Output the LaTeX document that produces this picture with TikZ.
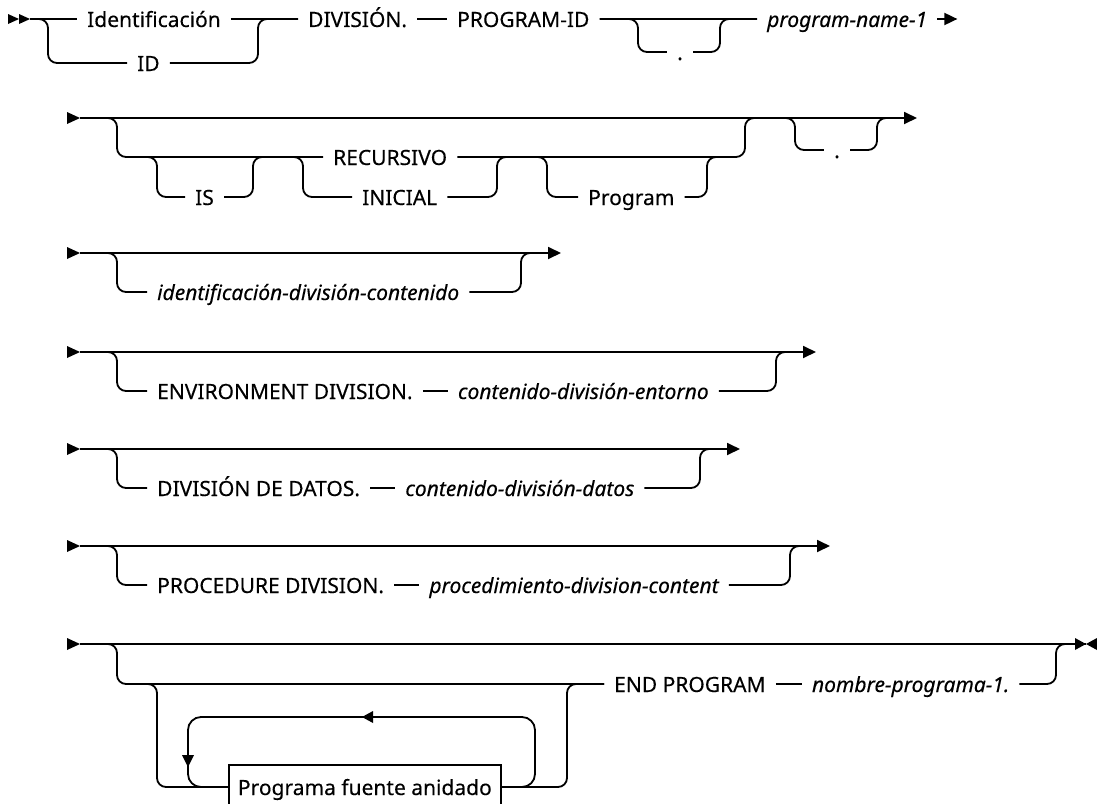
\documentclass[tikz,border=0pt]{standalone}
\usepackage{fontspec}
\setmainfont{Noto Sans}[FakeBold=0.3]
\usetikzlibrary{arrows.meta,calc}
\begin{document}
\begin{tikzpicture}[x=1pt,y=-1pt,
  rail/.style={line width=1.8pt, rounded corners=9pt},
  lbl/.style={anchor=west, inner xsep=10pt, inner ysep=0pt, text height=16pt, text depth=0pt,
    font=\fontsize{21}{25}\selectfont},
  var/.style={lbl, font=\fontsize{21}{25}\selectfont\itshape},
  dotl/.style={lbl, anchor=center},
  box/.style={draw, line width=1.8pt, anchor=west, inner xsep=9pt, inner ysep=0pt,
    minimum height=44pt, minimum width=267pt, text height=16pt, text depth=0pt,
    font=\fontsize{21}{25}\selectfont},
  endarrow/.style={-{Triangle[length=13pt,width=12pt]}},
  startmark/.pic={\fill (-13,-6) -- (0,0) -- (-13,6) -- cycle;},
  leftmark/.pic={\fill (11,-6) -- (0,0) -- (11,6) -- cycle;},
  downmark/.pic={\fill (-6,-12) -- (0,0) -- (6,-12) -- cycle;},
]
\fill[white] (0,0) rectangle (1097,803);
\useasboundingbox (0,0) rectangle (1097,803);

% ---- IDENTIFICATION DIVISION header
\coordinate (s1) at (30,19);
\fill (8,14) -- (19,19) -- (8,24) -- cycle;
\fill (19,14) -- (30,19) -- (19,24) -- cycle;
\node[lbl] (ident) at (77,19) {Identificación};
\node[lbl] (id) at (127,63) {ID};
\node[lbl] (div) at (298,19) {DIVISIÓN.};
\node[lbl] (pid) at (447,19) {PROGRAM-ID};
\node[dotl] (dot1) at (680,52) {.};
\node[var] (pn1) at (757,19) {program-name-1};
\coordinate (e1) at ($(pn1.east)+(20,0)$);
\draw[rail] (s1) -- (ident.west);
\draw[rail] (s1) -- (48,19) -- (48,63) -- (id.west);
\draw[rail] (ident.east) -- (div.west);
\draw[rail] (id.east) -- (258,63) -- (258,19) -- (div.west);
\draw[rail] (div.east) -- (pid.west);
\draw[rail] (pid.east) -- (pn1.west);
\draw[rail] (pid.east) -- (638,19) -- (638,52) -- (dot1.west);
\draw[rail] (dot1.east) -- (720,52) -- (720,19) -- (pn1.west);
\draw[rail,endarrow] (pn1.east) -- (e1);

% ---- program attributes
\coordinate (s2) at (80,118);
\coordinate (e2) at (917,118);
\pic at (s2) {startmark};
\node[lbl] (is) at (185,197) {IS};
\node[lbl] (rec) at (323,157) {RECURSIVO};
\node[lbl] (ini) at (352,197) {INICIAL};
\node[lbl] (prg) at (578,197) {Program};
\node[dotl] (dot2) at (837,150) {.};
\draw[rail,endarrow] (s2) -- (e2);
\draw[rail] (s2) -- (117,118) -- (117,157) -- (rec.west);
\draw[rail] (135,157) -- (157,157) -- (157,197) -- (is.west);
\draw[rail] (is.east) -- (253,197) -- (253,157) -- (275,157);
\draw[rail] (275,157) -- (303,157) -- (303,197) -- (ini.west);
\draw[rail] (ini.east) -- (497,197) -- (497,157) -- (520,157);
\draw[rail] (520,157) -- (547,157) -- (547,197) -- (prg.west);
\draw[rail] (prg.east) -- (707,197) -- (707,157) -- (725,157);
\draw[rail] (rec.east) -- (745,157) -- (745,118) -- (770,118);
\draw[rail] (775,118) -- (795,118) -- (795,150) -- (dot2.west);
\draw[rail] (dot2.east) -- (877,150) -- (877,118) -- (895,118);

% ---- identification division content
\coordinate (s3) at (80,253);
\coordinate (j3) at (521,292);
\coordinate (e3) at (561,253);
\pic at (s3) {startmark};
\node[var] (idc) at (147,292) {identificación-división-contenido};
\draw[rail,endarrow] (s3) -- (e3);
\draw[rail] (s3) -- (117,253) -- (117,292) -- (idc.west);
\draw[rail] (idc.east) -- (j3) -- (j3 |- s3) -- ++(15,0);

% ---- environment division
\coordinate (s4) at (80,352);
\coordinate (j4) at (776,391);
\coordinate (e4) at (816,352);
\pic at (s4) {startmark};
\node[lbl] (env) at (147,391) {ENVIRONMENT DIVISION.};
\node[var,anchor=west] (cde) at ($(env.east)+(25,0)$) {contenido-división-entorno};
\draw[rail,endarrow] (s4) -- (e4);
\draw[rail] (s4) -- (117,352) -- (117,391) -- (env.west);
\draw[rail] (env.east) -- (cde.west);
\draw[rail] (cde.east) -- (j4) -- (j4 |- s4) -- ++(15,0);

% ---- data division
\coordinate (s5) at (80,449);
\coordinate (j5) at (700,488);
\coordinate (e5) at (740,449);
\pic at (s5) {startmark};
\node[lbl] (dat) at (147,488) {DIVISIÓN DE DATOS.};
\node[var,anchor=west] (cdd) at ($(dat.east)+(25,0)$) {contenido-división-datos};
\draw[rail,endarrow] (s5) -- (e5);
\draw[rail] (s5) -- (117,449) -- (117,488) -- (dat.west);
\draw[rail] (dat.east) -- (cdd.west);
\draw[rail] (cdd.east) -- (j5) -- (j5 |- s5) -- ++(15,0);

% ---- procedure division
\coordinate (s6) at (80,546);
\coordinate (j6) at (790,585);
\coordinate (e6) at (830,546);
\pic at (s6) {startmark};
\node[lbl] (proc) at (147,585) {PROCEDURE DIVISION.};
\node[var,anchor=west] (pdc) at ($(proc.east)+(25,0)$) {procedimiento-division-content};
\draw[rail,endarrow] (s6) -- (e6);
\draw[rail] (s6) -- (117,546) -- (117,585) -- (proc.west);
\draw[rail] (proc.east) -- (pdc.west);
\draw[rail] (pdc.east) -- (j6) -- (j6 |- s6) -- ++(15,0);

% ---- nested programs and END PROGRAM
\coordinate (s7) at (80,644);
\coordinate (e7) at (1086,644);
\pic at (s7) {startmark};
\node[lbl] (endp) at (604,684) {END PROGRAM};
\node[var,anchor=west] (np) at ($(endp.east)+(26,0)$) {nombre-programa-1.};
\node[box] (pfa) at (228,787) {Programa fuente anidado};
\draw[rail] (s7) -- (e7);
\fill (1075,638) -- (e7) -- (1075,650) -- cycle;
\fill (1097,638) -- (e7) -- (1097,650) -- cycle;
\draw[rail] (s7) -- (117,644) -- (117,684) -- (endp.west);
\draw[rail] (135,684) -- (157,684) -- (157,787) -- (pfa.west);
\draw[rail] (pfa.east) -- (567,787) -- (567,684) -- (endp.west);
\draw[rail] (endp.east) -- (np.west);
\draw[rail] (np.east) -- (1056,684) -- (1056,644) -- (1070,644);
\draw[rail,rounded corners=13pt] (pfa.east) -- (535,787) -- (535,717) -- (188,717) -- (188,787) -- (pfa.west);
\pic at (362,717) {leftmark};
\pic at (188,767) {downmark};
\end{tikzpicture}
\end{document}
